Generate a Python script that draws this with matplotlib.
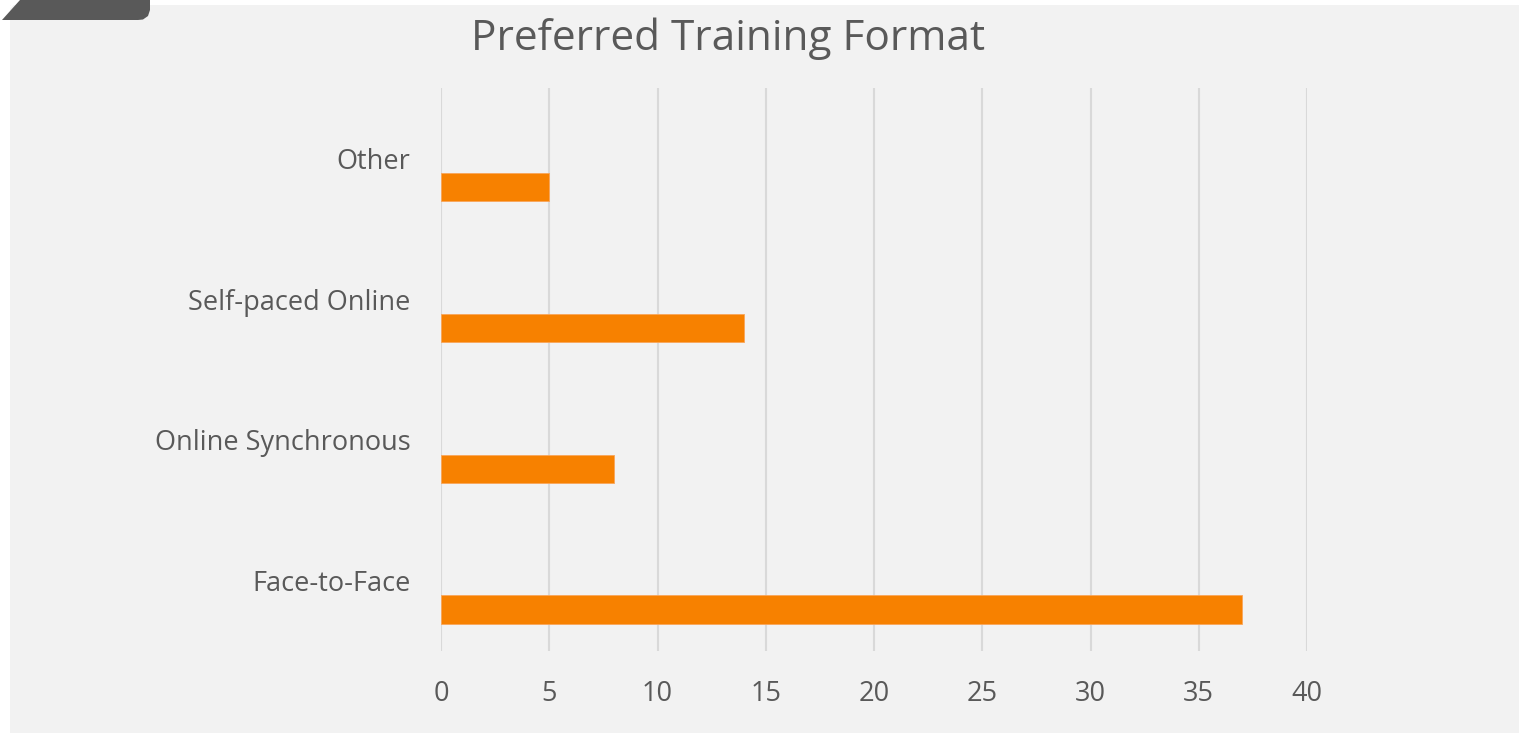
import matplotlib
matplotlib.use("Agg")
import matplotlib.pyplot as plt
from matplotlib.patches import Rectangle, Polygon
from matplotlib.lines import Line2D

# chart data (bottom to top, as drawn)
categories = ["Face-to-Face", "Online Synchronous", "Self-paced Online", "Other"]
counts = [37, 8, 14, 5]
x_ticks = [0, 5, 10, 15, 20, 25, 30, 35, 40]

W, H = 1519, 733
TEXT = "#595959"
GRID = "#d9d9d9"
BAR = "#f78100"
PANEL = "#f2f2f2"

plt.rcParams["font.family"] = ["Open Sans", "DejaVu Sans"]

fig = plt.figure(figsize=(W / 100, H / 100), dpi=100, facecolor="white")


def px(x, y):
    """pixel coords (top-left origin) -> figure fraction"""
    return (x / W, 1 - y / H)


# gray panel behind the chart (runs off the right and bottom edges)
x0, y0 = px(10, 5)
fig.patches.append(Rectangle((x0, -0.02), 1.05 - x0, y0 + 0.02,
                             transform=fig.transFigure, facecolor=PANEL,
                             edgecolor="none", zorder=-2))

# dark tab in the top-left corner
tab = [px(2, 20), px(20, 0), px(150, 0), px(150, 10), px(148, 16),
       px(143, 19.5), px(138, 20)]
fig.patches.append(Polygon(tab, closed=True, transform=fig.transFigure,
                           facecolor="#595959", edgecolor="none", zorder=-1))
wx, wy = zip(*[px(2, 16), px(15, 2), px(131, 2), px(133, 0)])
fig.lines.append(Line2D(wx, wy, transform=fig.transFigure, color="white",
                        linewidth=1.5, zorder=-1))

ax = fig.add_axes([441 / W, 1 - 651 / H, 866 / W, 563 / H])
ax.set_facecolor("none")
ax.set_zorder(1)

pos = list(range(len(categories)))
ax.barh([p - 0.205 for p in pos], counts, height=0.2, color=BAR,
        edgecolor="#f9a55a", linewidth=0.6, zorder=3)

ax.set_xlim(0, 40)
ax.set_ylim(-0.5, len(categories) - 0.5)
ax.set_xticks(x_ticks)
ax.set_yticks(pos)
ax.set_yticklabels(categories)
ax.tick_params(axis="both", length=0, colors=TEXT, labelsize=19.5)
ax.tick_params(axis="x", pad=21)
ax.tick_params(axis="y", pad=22)
ax.grid(axis="x", color=GRID, linewidth=1.5, zorder=0)
for s in ax.spines.values():
    s.set_visible(False)

fig.text(728 / W, 1 - 39 / H, "Preferred Training Format", ha="center",
         va="center", fontsize=30.5, color=TEXT)

fig.savefig("out.png", dpi=100, facecolor="white")
